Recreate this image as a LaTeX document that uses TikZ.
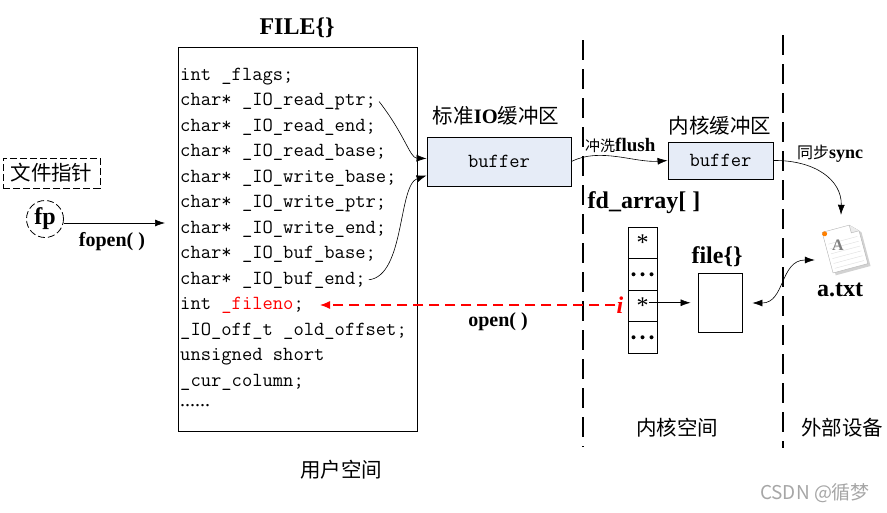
\documentclass[tikz,border=0pt]{standalone}
\usepackage{fontspec}
\setmainfont{Liberation Serif}
\newfontfamily\cjk{Noto Sans CJK SC}
\usetikzlibrary{arrows.meta,positioning,calc}
\definecolor{bufblue}{RGB}{230,236,247}
\newcommand{\fs}[1]{\fontsize{#1}{#1}\selectfont}

\begin{document}
\begin{tikzpicture}[x=1pt,y=-1pt,
	code/.style={anchor=base west, inner sep=0pt, font=\ttfamily\fs{20}},
	bufbox/.style={draw, line width=0.9pt, fill=bufblue, font=\ttfamily\fs{20}, inner sep=0pt},
	cell/.style={draw, line width=0.9pt, minimum width=29pt, minimum height=31.5pt, inner sep=0pt, font=\fs{24}},
	zh/.style={font=\cjk\fs{20.5}},
	bold/.style={font=\bfseries\fs{24}},
	arr/.style={-{Latex[length=10pt,width=7pt]}, line width=0.6pt},
	shortdash/.style={dash pattern=on 7pt off 3pt},
	vsep/.style={line width=1.4pt, dash pattern=on 20pt off 9pt}]
	\useasboundingbox (0,0) rectangle (887,512);

	\node[bold] (filetitle) at (297,28) {FILE\{\}};
	\node[draw, line width=0.9pt, minimum width=239pt, minimum height=384pt, inner sep=0pt] (filebox) at (297.5,239) {};
	\foreach \txt [count=\i] in {int \_flags;,
		char* \_IO\_read\_ptr;,
		char* \_IO\_read\_end;,
		char* \_IO\_read\_base;,
		char* \_IO\_write\_base;,
		char* \_IO\_write\_ptr;,
		char* \_IO\_write\_end;,
		char* \_IO\_buf\_base;,
		char* \_IO\_buf\_end;,
		int \textcolor{red}{\_fileno};,
		\_IO\_off\_t \_old\_offset;,
		unsigned short,
		\_cur\_column;}
		\node[code] (l\i) at (180,{80+(\i-1)*25.5}) {\txt};
	\node[anchor=base west, inner sep=0pt, font=\fs{20}] (ldots) at (180,406) {......};

	\node[zh, draw, shortdash, line width=0.9pt, minimum width=97pt, minimum height=30pt, inner sep=0pt] (ptrlbl) at (51.5,173) {文件指针};
	\node[draw, shortdash, circle, line width=0.8pt, minimum size=37pt, inner sep=0pt, font=\bfseries\fs{24}] (fp) at (45,219) {fp};
	\coordinate (fopenend) at (165,223);
	\draw[arr] (fp.east |- fopenend) -- (fopenend);
	\node[font=\bfseries\fs{20}] (fopenlbl) at (112,242) {fopen( )};

	\node[zh] (iolbl) at (496,116) {标准{\rmfamily\bfseries IO}缓冲区};
	\node[bufbox, minimum width=144pt, minimum height=49pt] (iobuf) at (499,161.5) {buffer};
	\node[zh] (klbl) at (720,126) {内核缓冲区};
	\node[bufbox, minimum width=105pt, minimum height=37pt] (kbuf) at (720.5,160.5) {buffer};

	\draw[arr] ([xshift=3pt]l2.east) .. controls (405,135) and (410,158) .. ([yshift=3pt]iobuf.west);
	\draw[arr] ([xshift=3pt]l9.east) .. controls (405,276) and (398,185) .. ([yshift=-14pt]iobuf.west);

	\draw[arr] (iobuf.east) .. controls (600,147) and (635,163) .. (kbuf.west);
	\node[anchor=west, inner sep=0pt] (flushlbl) at (585,145) {{\cjk\fs{15}冲洗}{\bfseries\fs{19}flush}};

	\draw[vsep] (583,40) -- (583,447);
	\draw[vsep] (783,35) -- (783,448);

	\node[bold] (fdlbl) at (644,203) {fd\_array[ ]};
	\foreach \t [count=\i] in {*,{},*,{}}
		\node[cell] (c\i) at (642.5,{227+(\i-0.5)*31.5}) {\t};
	\foreach \k in {-1,0,1} {
		\fill ([xshift=\k*9pt]c2.center) circle (2pt);
		\fill ([xshift=\k*9pt]c4.center) circle (2pt);
	}
	\node[draw, line width=0.9pt, minimum width=44pt, minimum height=59pt, inner sep=0pt] (fileobj) at (720,303) {};
	\node[bold] (fileobjlbl) at (717,257) {file\{\}};
	\coordinate (star3) at ([xshift=6pt,yshift=3pt]c3.center);
	\draw[arr, shorten >=7pt] (star3) -- (star3 -| fileobj.west);

	\node[minimum size=50pt, inner sep=0pt] (atxt) at (845,248) {};
	\begin{scope}[shift={(atxt.center)}, rotate=15]
		\fill[gray!35] (-16,-19) -- (12,-19) -- (20,-11) -- (20,24) -- (-16,24) -- cycle;
		\draw[gray!60, fill=white] (-18,-21) -- (10,-21) -- (18,-13) -- (18,21) -- (-18,21) -- cycle;
		\foreach \yy in {-8,-3,...,17} \draw[gray!25] (-15,\yy) -- (15,\yy);
		\draw[gray!60, fill=gray!15] (10,-21) -- (10,-13) -- (18,-13);
		\node[text=gray, font=\bfseries\fs{16}] at (-6,-5) {A};
		\fill[orange] (-16,-19) circle (2.5);
	\end{scope}
	\node[bold] (atxtlbl) at (840,290) {a.txt};
	\draw[arr] (kbuf.east) .. controls (815,160) and (842,180) .. ([xshift=-4pt,yshift=8pt]atxt.north);
	\node[anchor=west, inner sep=0pt] (synclbl) at (797,154) {{\cjk\fs{16}同步}{\bfseries\fs{18}sync}};
	\draw[{Latex[length=10pt,width=7pt]}-{Latex[length=10pt,width=7pt]}, line width=0.6pt, shorten <=10pt] (fileobj.east) .. controls (785,303) and (780,260) .. ([xshift=-5pt,yshift=-12pt]atxt.west);

	\node[text=red, font=\bfseries\itshape\fs{24}, inner sep=1pt] (ival) at (620,305) {i};
	\draw[red, line width=1.2pt, dash pattern=on 10pt off 6pt, -{Latex[length=10pt,width=8pt]}, shorten >=16pt] (ival.west) -- (ival.west -| l10.east);
	\node[font=\bfseries\fs{20}] (openlbl) at (498,322) {open( )};

	\node[zh] (userlbl) at (341,470) {用户空间};
	\node[zh] (kernlbl) at (677,428) {内核空间};
	\node[zh] (devlbl) at (842,428) {外部设备};
	\node[font=\cjk\fs{19}, text=gray!70] (mark) at (815,493) {CSDN @循梦};
\end{tikzpicture}
\end{document}
